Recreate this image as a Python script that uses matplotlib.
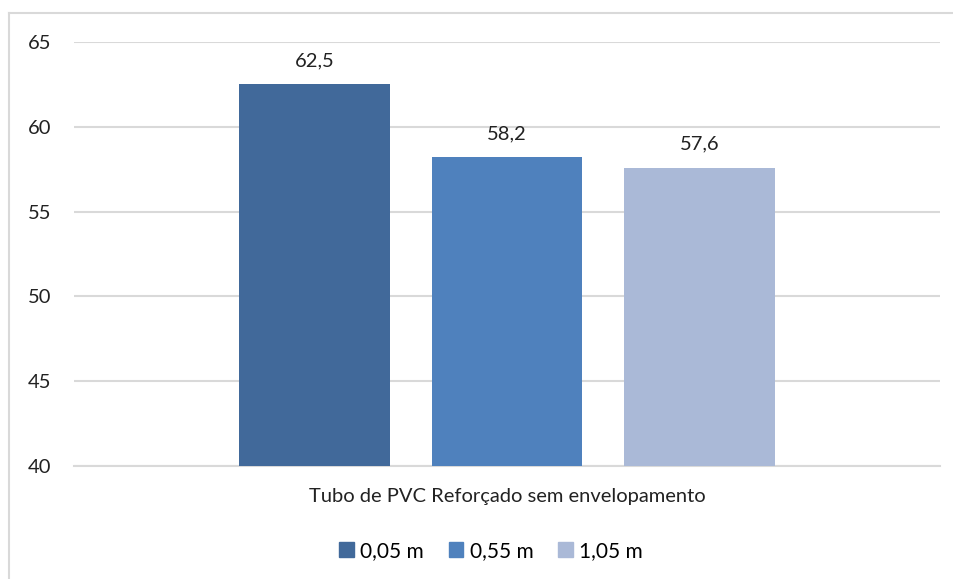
import matplotlib.pyplot as plt
from matplotlib.lines import Line2D
from matplotlib.patches import Patch

plt.rcParams['font.family'] = ['Lato', 'DejaVu Sans']

category = "Tubo de PVC Reforçado sem envelopamento"
series = ["0,05 m", "0,55 m", "1,05 m"]
values = [62.5, 58.2, 57.6]
colors = ["#41699A", "#4F81BD", "#AAB9D7"]

fig = plt.figure(figsize=(9.54, 5.79), dpi=100)
ax = fig.add_axes([74/954, 1 - 466/579, 866/954, 424/579])

width = 0.174
offsets = [-0.222, 0, 0.222]
for off, v, c in zip(offsets, values, colors):
    ax.bar(off, v - 40, bottom=40, width=width, color=c, zorder=3)
    ax.annotate(f"{v:.1f}".replace(".", ","), (off, v), xytext=(0, 11),
                textcoords="offset points", ha="center", va="bottom",
                fontsize=14.5, color="#222222")

ax.set_xlim(-0.5, 0.5)
ax.set_ylim(40, 65)
ax.set_yticks([40, 45, 50, 55, 60, 65])
ax.grid(axis="y", color="#D9D9D9", linewidth=1.5, zorder=0)
ax.set_xticks([0])
ax.set_xticklabels([category])
for s in ["top", "right", "left"]:
    ax.spines[s].set_visible(False)
ax.spines["bottom"].set_color("#D9D9D9")
ax.spines["bottom"].set_linewidth(1.5)
ax.tick_params(axis="both", length=0, labelsize=14.5, colors="#222222")
ax.tick_params(axis="y", pad=16.5)
ax.tick_params(axis="x", pad=16)

handles = [Patch(color=c) for c in colors]
fig.legend(handles, series, loc="center", bbox_to_anchor=(491/954, 1 - 551/579),
           ncol=3, frameon=False, fontsize=15, handlelength=0.7, handleheight=0.7,
           handletextpad=0.3, columnspacing=1.2)

# chart frame (top and left edges only visible)
fig.add_artist(Line2D([9/954, 1], [1 - 13/579, 1 - 13/579], color="#D9D9D9", lw=1.5))
fig.add_artist(Line2D([9/954, 9/954], [0, 1 - 13/579], color="#D9D9D9", lw=1.5))

fig.savefig("out.png", dpi=100)
